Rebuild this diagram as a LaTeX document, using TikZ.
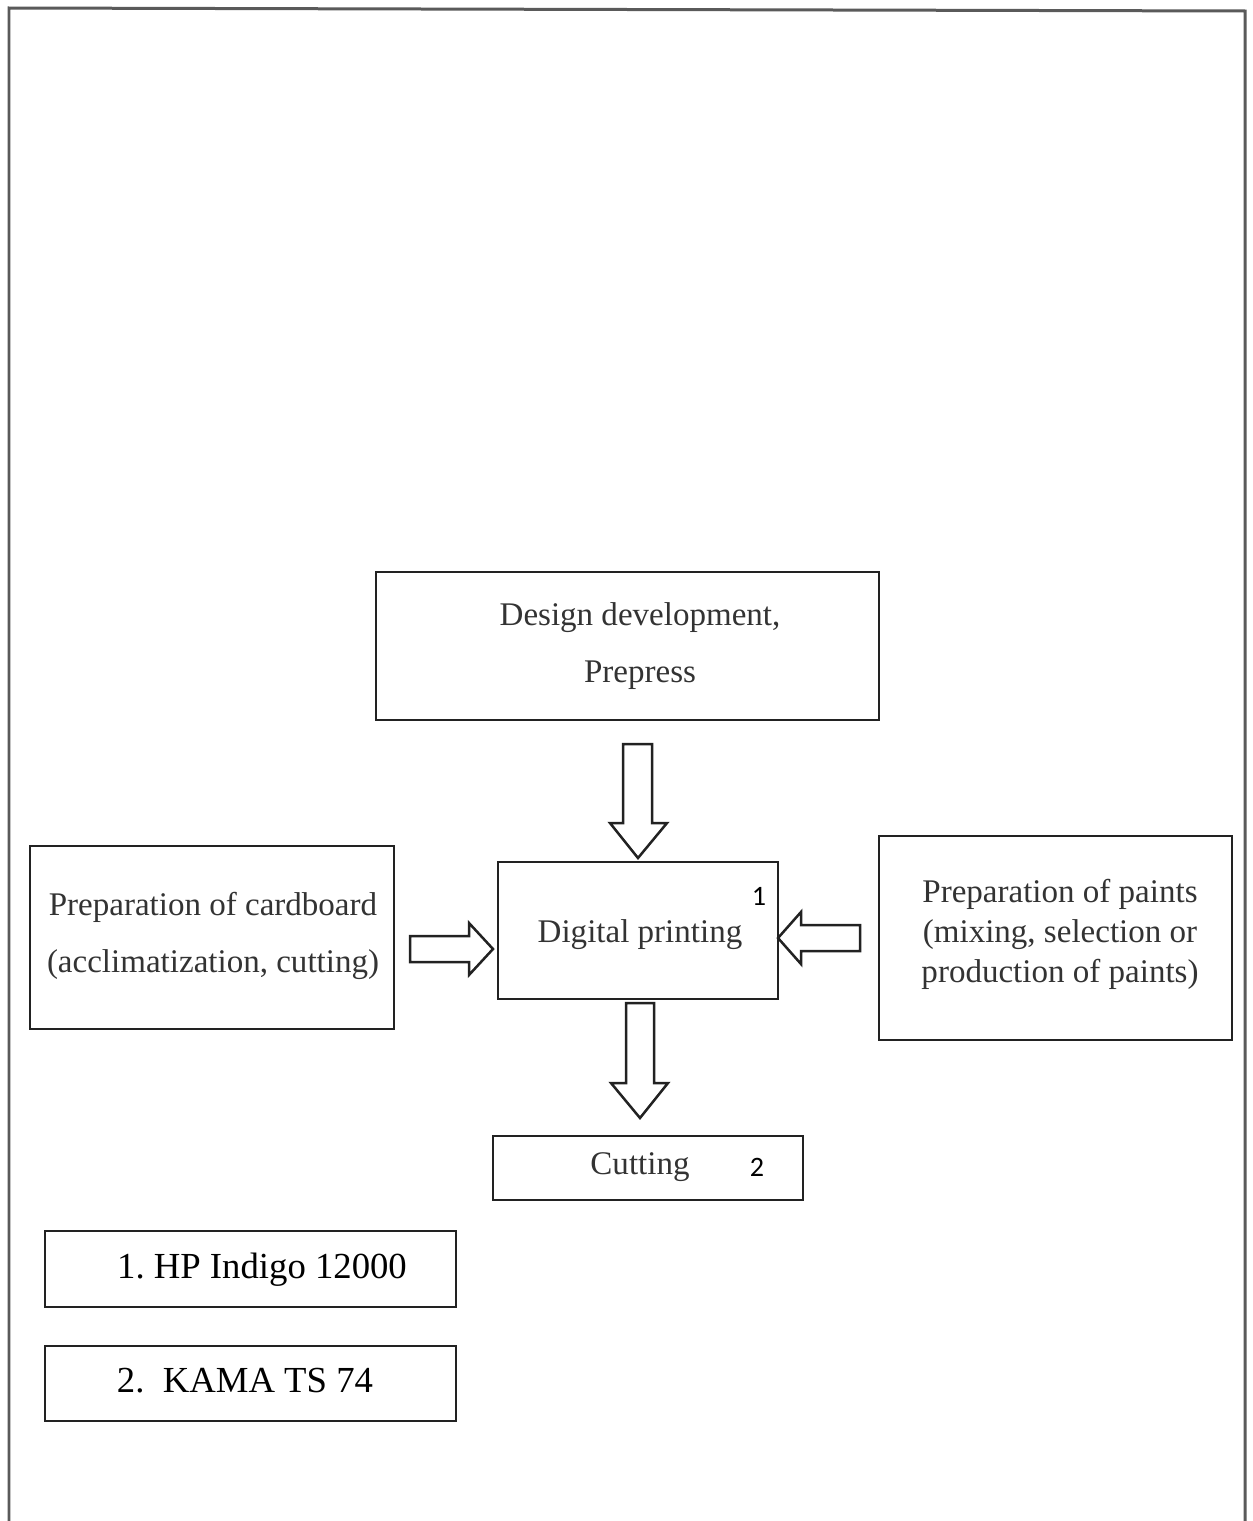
\documentclass[tikz,border=0pt]{standalone}
\usepackage{fontspec}
\setmainfont{Liberation Serif}
\newfontfamily\numfont{Carlito}
\frenchspacing
\definecolor{frame}{HTML}{5A5A5A}
\definecolor{ink}{HTML}{222222}
\definecolor{txtc}{HTML}{333333}
\begin{document}
\begin{tikzpicture}[x=0.02cm,y=-0.02cm,
  box/.style={draw=ink, line width=0.045cm, rectangle, inner sep=0pt, fill=white},
  txt/.style={text=txtc, align=center, inner sep=0pt, font=\fontsize{18.8}{32.4}\selectfont},
  blk/.style={draw=ink, line width=0.05cm, fill=white, line join=miter},
  num/.style={text=black, inner sep=0pt, font=\numfont\fontsize{16}{18}\selectfont},
  legtxt/.style={text=black, inner sep=0pt, font=\fontsize{20.9}{24}\selectfont}]
\useasboundingbox (0,0) rectangle (1253,1521);
\fill[white] (0,0) rectangle (1253,1521);
% outer frame
\draw[frame, line width=0.06cm] (9,1521) -- (9,8) -- (1245,11) -- (1245,1521);

% boxes
\node[box, minimum width=10.06cm, minimum height=2.96cm] (design) at (627.5,646) {};
\node[txt] (designtxt) at (640,646) {Design development,\\Prepress};

\node[box, minimum width=7.28cm, minimum height=3.66cm] (card) at (212,937.5) {};
\node[txt, font=\fontsize{18.8}{32.9}\selectfont] (cardtxt) at (213,936) {Preparation of cardboard\\(acclimatization, cutting)};

\node[box, minimum width=7.06cm, minimum height=4.08cm] (paints) at (1055.5,938) {};
\node[txt, font=\fontsize{18.8}{22.7}\selectfont] (paintstxt) at (1060,934) {Preparation of paints\\(mixing, selection or\\production of paints)};

\node[box, minimum width=5.6cm, minimum height=2.74cm] (dp) at (638,930.5) {};
\node[txt] (dptxt) at (640,935) {Digital printing};
\node[num] (n1) at (759,896) {1};

\node[box, minimum width=6.2cm, minimum height=1.28cm] (cut) at (648,1168) {};
\node[txt] (cuttxt) at (640,1167) {Cutting};
\node[num] (n2) at (757,1167) {2};

\node[box, minimum width=8.22cm, minimum height=1.52cm] (hp) at (250.5,1269) {};
\node[legtxt] (hptxt) at (262,1270) {1. HP Indigo 12000};

\node[box, minimum width=8.22cm, minimum height=1.5cm] (kama) at (250.5,1383.5) {};
\node[legtxt] (kamatxt) at (245,1381) {2.\ \ KAMA TS 74};

% block arrows
\draw[blk] (623,744) -- (652,744) -- (652,823) -- (667,823) -- (638,858) -- (610,823) -- (623,823) -- cycle;
\draw[blk] (410,936) -- (469,936) -- (469,923) -- (493,949) -- (469,975) -- (469,962) -- (410,962) -- cycle;
\draw[blk] (860,925) -- (801,925) -- (801,912) -- (778,938) -- (801,964) -- (801,951) -- (860,951) -- cycle;
\draw[blk] (626,1003) -- (654,1003) -- (654,1083) -- (668,1083) -- (640,1118) -- (611,1083) -- (626,1083) -- cycle;
\end{tikzpicture}
\end{document}
